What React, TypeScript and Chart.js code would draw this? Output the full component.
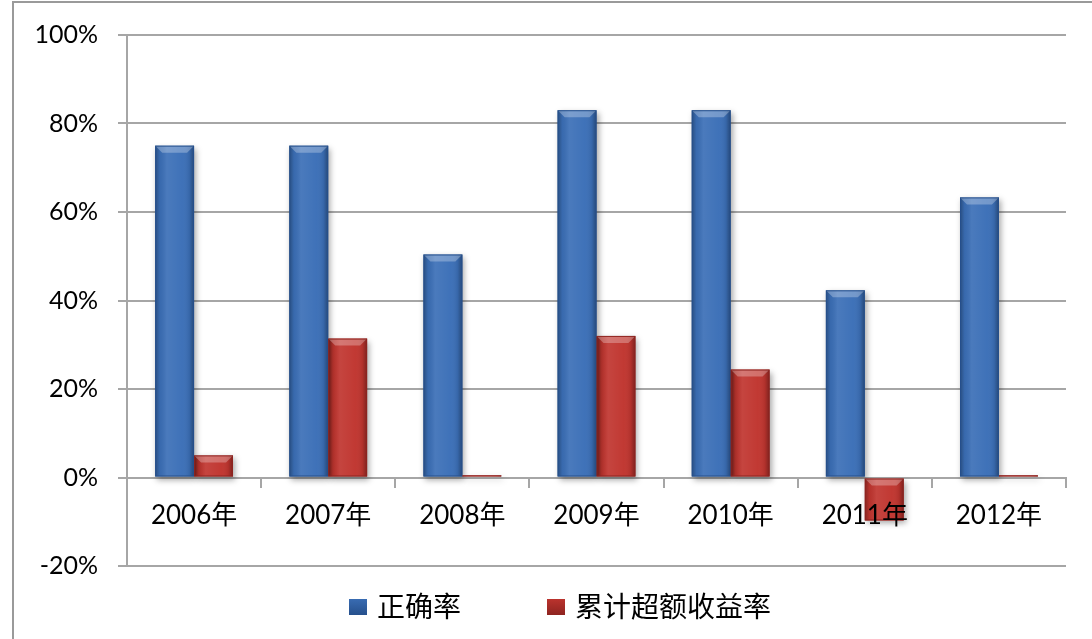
import React, { useEffect, useRef } from "react";
import { Chart, registerables } from "chart.js";

Chart.register(...registerables);

const categories = ["2006年", "2007年", "2008年", "2009年", "2010年", "2011年", "2012年"];
const accuracy = [75, 75, 50.4, 83, 83, 42.3, 63.3];
const excessReturn = [5, 31.4, 0.5, 32, 24.4, -9.7, 0.5];
const seriesNames = ["正确率", "累计超额收益率"];
const yTicks = [-20, 0, 20, 40, 60, 80, 100];

const BLUE = "#3b6fb7";
const RED = "#c0352f";
const BLUE_DARK = "#26508c";
const RED_DARK = "#8e2420";

const borderPlugin = {
  id: "outerBorder",
  beforeDraw(chart: any) {
    const ctx = chart.ctx;
    ctx.save();
    ctx.strokeStyle = "#9a9a9a";
    ctx.lineWidth = 2;
    ctx.beginPath();
    ctx.moveTo(13, 700);
    ctx.lineTo(13, 2);
    ctx.lineTo(1092, 2);
    ctx.stroke();
    ctx.restore();
  },
};

const bevelPlugin = {
  id: "bevel",
  beforeDatasetsDraw(chart: any) {
    const ctx = chart.ctx;
    ctx.save();
    ctx.shadowColor = "rgba(0,0,0,0.35)";
    ctx.shadowBlur = 6;
    ctx.shadowOffsetX = 2;
    ctx.shadowOffsetY = 3;
  },
  afterDatasetsDraw(chart: any) {
    const ctx = chart.ctx;
    ctx.restore();
    ctx.save();
    chart.data.datasets.forEach((ds: any, di: number) => {
      const meta = chart.getDatasetMeta(di);
      meta.data.forEach((bar: any) => {
        const { x, y, base, width } = bar.getProps(["x", "y", "base", "width"], true);
        const left = x - width / 2;
        const right = x + width / 2;
        const top = Math.min(y, base);
        const bottom = Math.max(y, base);
        const h = bottom - top;
        if (h < 0.5) return;
        const g = ctx.createLinearGradient(left, 0, right, 0);
        g.addColorStop(0, "rgba(0,0,0,0.30)");
        g.addColorStop(0.12, "rgba(0,0,0,0.05)");
        g.addColorStop(0.3, "rgba(255,255,255,0.08)");
        g.addColorStop(0.7, "rgba(255,255,255,0.02)");
        g.addColorStop(0.88, "rgba(0,0,0,0.08)");
        g.addColorStop(1, "rgba(0,0,0,0.35)");
        ctx.fillStyle = g;
        ctx.fillRect(left, top, width, h);
        const bh = Math.min(7, h);
        ctx.beginPath();
        ctx.moveTo(left, top);
        ctx.lineTo(right, top);
        ctx.lineTo(right - bh, top + bh);
        ctx.lineTo(left + bh, top + bh);
        ctx.closePath();
        ctx.fillStyle = "rgba(255,255,255,0.28)";
        ctx.fill();
        ctx.strokeStyle = di === 0 ? BLUE_DARK : RED_DARK;
        ctx.lineWidth = 1;
        ctx.strokeRect(left + 0.5, top + 0.5, width - 1, h - 1);
      });
    });
    ctx.restore();
  },
};

const legendPlugin = {
  id: "customLegend",
  afterDraw(chart: any) {
    const ctx = chart.ctx;
    ctx.save();
    ctx.font = "28px 'Noto Sans CJK SC', sans-serif";
    ctx.textBaseline = "middle";
    const box = 18;
    const gapText = 10;
    const gapItem = 86;
    const colors = [BLUE, RED];
    const widths = seriesNames.map((n) => box + gapText + ctx.measureText(n).width);
    const total = widths.reduce((a, b) => a + b, 0) + gapItem * (widths.length - 1);
    let cx = 560 - total / 2;
    const cy = 606;
    seriesNames.forEach((name, i) => {
      const g = ctx.createLinearGradient(cx, cy - box / 2, cx, cy + box / 2);
      g.addColorStop(0, colors[i]);
      g.addColorStop(1, i === 0 ? BLUE_DARK : RED_DARK);
      ctx.fillStyle = g;
      ctx.fillRect(cx, cy - box / 2 + 2, box, box - 2);
      ctx.fillStyle = "#000";
      ctx.fillText(name, cx + box + gapText, cy);
      cx += widths[i] + gapItem;
    });
    ctx.restore();
  },
};

export default function App() {
  const ref = useRef<HTMLCanvasElement | null>(null);
  useEffect(() => {
    if (!ref.current) return;
    const chart = new Chart(ref.current, {
      type: "bar",
      data: {
        labels: categories,
        datasets: [
          {
            label: seriesNames[0],
            data: accuracy,
            backgroundColor: BLUE,
            categoryPercentage: 0.58,
            barPercentage: 1,
          },
          {
            label: seriesNames[1],
            data: excessReturn,
            backgroundColor: RED,
            categoryPercentage: 0.58,
            barPercentage: 1,
          },
        ],
      },
      options: {
        animation: false,
        responsive: false,
        maintainAspectRatio: false,
        layout: { padding: { left: 20, right: 26, top: 35, bottom: 73 } },
        plugins: {
          legend: { display: false },
          tooltip: { enabled: false },
        },
        scales: {
          x: {
            position: { y: 0 } as any,
            offset: true,
            grid: {
              display: true,
              drawOnChartArea: false,
              drawTicks: true,
              tickLength: 9,
              color: "#a6a6a6",
              lineWidth: 2,
              offset: true,
            },
            border: { display: true, color: "#a6a6a6", width: 2 },
            ticks: {
              z: 1,
              color: "#000",
              font: { family: "Lato, 'Noto Sans CJK SC', sans-serif", size: 26 },
              padding: 14,
              maxRotation: 0,
            },
          },
          y: {
            min: -20,
            max: 100,
            afterBuildTicks: (scale: any) => {
              scale.ticks = yTicks.map((v) => ({ value: v }));
            },
            afterFit: (scale: any) => {
              scale.width = 107;
            },
            grid: {
              color: "#a6a6a6",
              lineWidth: 2,
              tickLength: 9,
            },
            border: { display: true, color: "#a6a6a6", width: 2 },
            ticks: {
              color: "#000",
              font: { family: "Lato, sans-serif", size: 25 },
              padding: 20,
              callback: (v: any) => v + "%",
            },
          },
        },
      },
      plugins: [borderPlugin, bevelPlugin, legendPlugin],
    });
    return () => chart.destroy();
  }, []);
  return (
    <div style={{ position: "fixed", left: 0, top: 0, width: 1092, height: 639, background: "#fff" }}>
      <canvas ref={ref} width={1092} height={639} style={{ width: 1092, height: 639, display: "block" }} />
    </div>
  );
}
